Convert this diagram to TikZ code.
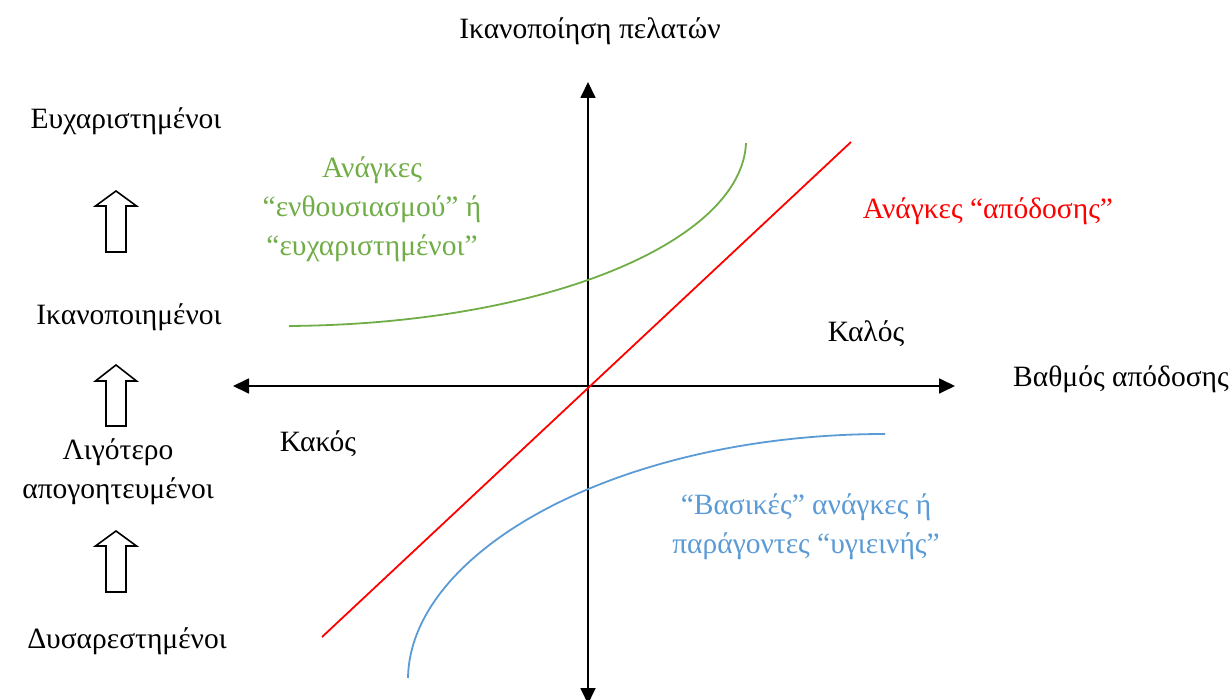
\documentclass[tikz,border=0pt]{standalone}
\usepackage{fontspec}
\setmainfont{Liberation Serif}
\usetikzlibrary{arrows.meta}
\definecolor{kgreen}{HTML}{70AD47}
\definecolor{kblue}{HTML}{5B9BD5}
\definecolor{kred}{HTML}{FF0000}
\begin{document}
\begin{tikzpicture}[x=1pt,y=-1pt,
  lbl/.style={font=\fontsize{29.5}{39}\selectfont, inner sep=0pt, align=center},
  axis/.style={line width=1.8pt, -{Triangle[length=16pt,width=15pt]}},
  curve/.style={line width=1.8pt},
  hollow/.style={draw=black, line width=1.6pt, fill=white}]
\useasboundingbox (0,0) rectangle (1232,700);
% axes
\coordinate (O) at (588,386);
\coordinate (top) at (588,82);
\coordinate (bot) at (588,704);
\coordinate (left) at (233,386);
\coordinate (right) at (955,386);
\draw[axis] (O) -- (top);
\draw[axis] (O) -- (bot);
\draw[axis] (O) -- (left);
\draw[axis] (O) -- (right);
% curves
\draw[curve, kred] (322,637) -- (851,142);
\draw[curve, kgreen] (289,326) .. controls (550,324) and (742,240) .. (746,143);
\draw[curve, kblue] (408,678) .. controls (410,550) and (620,434) .. (885,434);
% hollow arrows
\foreach \t/\hb/\b in {191/206/252, 365/381/426, 531/546/592}{
  \draw[hollow] (116,\t) -- (136.5,\hb) -- (126,\hb) -- (126,\b) -- (106,\b) -- (106,\hb) -- (95.5,\hb) -- cycle;
}
% labels
\node[lbl] (title) at (590,31) {Ικανοποίηση πελατών};
\node[lbl] (l1) at (126,121) {Ευχαριστημένοι};
\node[lbl] (l2) at (129,317) {Ικανοποιημένοι};
\node[lbl] (l3) at (118,472) {Λιγότερο\\απογοητευμένοι};
\node[lbl] (l4) at (127,641) {Δυσαρεστημένοι};
\node[lbl] (good) at (866,334) {Καλός};
\node[lbl] (bad) at (318,444) {Κακός};
\node[lbl] (xlab) at (1121,379) {Βαθμός απόδοσης};
\node[lbl, text=kgreen] (gl) at (372,209) {Ανάγκες\\“ενθουσιασμού” ή\\“ευχαριστημένοι”};
\node[lbl, text=kred] (rl) at (988,211) {Ανάγκες “απόδοσης”};
\node[lbl, text=kblue] (bl) at (806,527) {“Βασικές” ανάγκες ή\\παράγοντες “υγιεινής”};
\end{tikzpicture}
\end{document}
